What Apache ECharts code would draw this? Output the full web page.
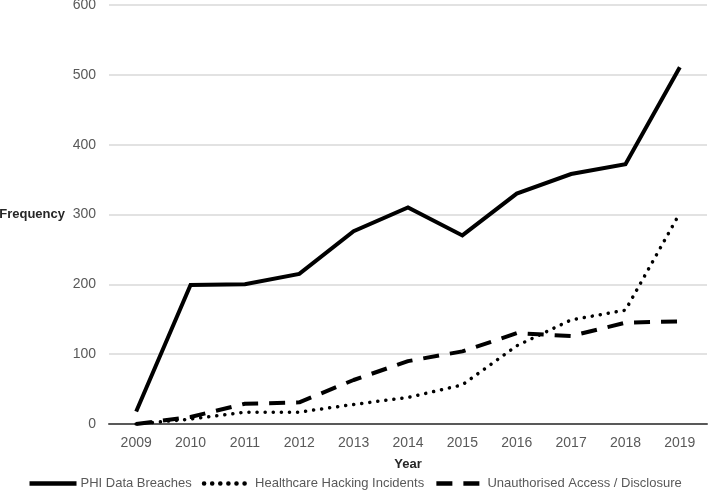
<!DOCTYPE html>
<html>
<head>
<meta charset="utf-8">
<script src="https://cdn.jsdelivr.net/npm/echarts@6/dist/echarts.min.js"></script>
<style>html,body{margin:0;padding:0;background:#fff}#c{width:709px;height:491px}</style>
</head>
<body>
<div id="c"></div>
<script>
const years = ['2009','2010','2011','2012','2013','2014','2015','2016','2017','2018','2019'];
const phiBreaches = [18, 199, 200, 215, 276, 310, 270, 330, 358, 372, 511];
const hackingIncidents = [0, 7, 17, 17, 28, 38, 56, 112, 149, 163, 302];
const unauthorisedAccess = [0, 10, 29, 31, 63, 90, 104, 130, 126, 145, 147];
const seriesNames = ['PHI Data Breaches', 'Healthcare Hacking Incidents', 'Unauthorised Access / Disclosure'];

const font = 'Liberation Sans';
const chart = echarts.init(document.getElementById('c'), null, {renderer: 'canvas'});
chart.setOption({
  animation: false,
  backgroundColor: '#fff',
  textStyle: {fontFamily: font},
  grid: {left: 109, right: 2, top: 5, bottom: 67, containLabel: false, outerBoundsMode: 'none'},
  legend: {
    left: 'center', top: 472,
    itemWidth: 47, itemHeight: 14, itemGap: 10,
    itemStyle: {opacity: 0},
    lineStyle: {width: 4.5},
    textStyle: {fontFamily: font, fontSize: 13, color: '#595959', padding: [0,0,0,-1]},
    data: seriesNames
  },
  xAxis: {
    type: 'category', data: years, boundaryGap: true,
    name: 'Year', nameLocation: 'middle', nameGap: 34,
    nameTextStyle: {fontFamily: font, fontSize: 13, fontWeight: 'bold', color: '#262626'},
    axisLine: {show: true, lineStyle: {color: '#595959', width: 2}},
    axisTick: {show: false},
    axisLabel: {fontFamily: font, fontSize: 14, color: '#595959', margin: 12}
  },
  yAxis: {
    type: 'value', min: 0, max: 600, interval: 100,
    name: 'Frequency', nameLocation: 'middle', nameRotate: 0, nameGap: 44,
    nameTextStyle: {fontFamily: font, fontSize: 13, fontWeight: 'bold', color: '#262626', align: 'right'},
    axisLine: {show: false}, axisTick: {show: false},
    axisLabel: {fontFamily: font, fontSize: 14, color: '#595959', margin: 13},
    splitLine: {lineStyle: {color: '#d9d9d9', width: 1.5}}
  },
  series: [
    {name: seriesNames[0], type: 'line', data: phiBreaches, symbol: 'none',
     lineStyle: {color: '#000', width: 4, type: 'solid', cap: 'butt', join: 'miter'}, itemStyle: {color: '#000'}},
    {name: seriesNames[1], type: 'line', data: hackingIncidents, symbol: 'none',
     lineStyle: {color: '#000', width: 3.5, type: [0.1, 8], cap: 'round'}, itemStyle: {color: '#000'}},
    {name: seriesNames[2], type: 'line', data: unauthorisedAccess, symbol: 'none',
     lineStyle: {color: '#000', width: 4, type: [16, 11], cap: 'butt'}, itemStyle: {color: '#000'}}
  ]
});
</script>
</body>
</html>
